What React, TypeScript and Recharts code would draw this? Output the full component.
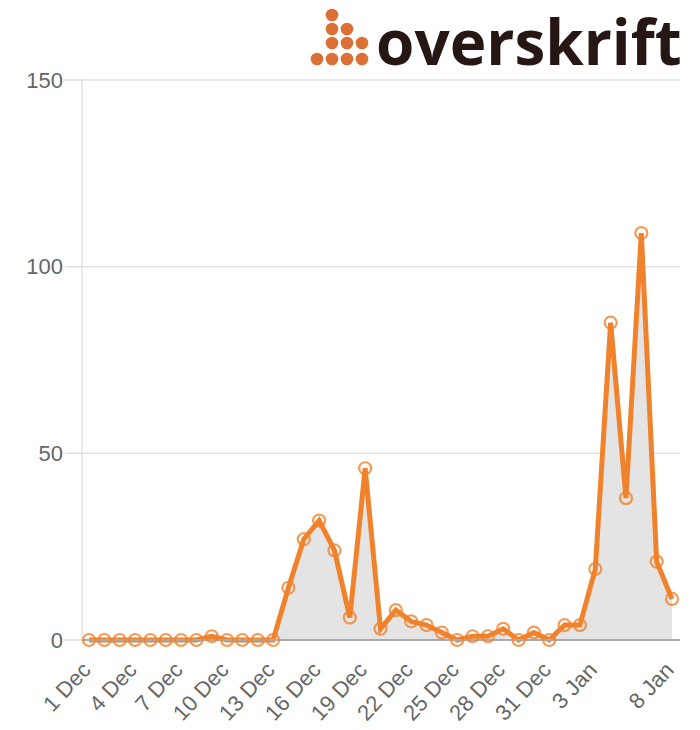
import { AreaChart, Area, XAxis, YAxis, CartesianGrid } from 'recharts';

const days = [
  '1 Dec', '2 Dec', '3 Dec', '4 Dec', '5 Dec', '6 Dec', '7 Dec', '8 Dec', '9 Dec', '10 Dec',
  '11 Dec', '12 Dec', '13 Dec', '14 Dec', '15 Dec', '16 Dec', '17 Dec', '18 Dec', '19 Dec', '20 Dec',
  '21 Dec', '22 Dec', '23 Dec', '24 Dec', '25 Dec', '26 Dec', '27 Dec', '28 Dec', '29 Dec', '30 Dec',
  '31 Dec', '1 Jan', '2 Jan', '3 Jan', '4 Jan', '5 Jan', '6 Jan', '7 Jan', '8 Jan',
];

const counts = [
  0, 0, 0, 0, 0, 0, 0, 0, 1, 0,
  0, 0, 0, 14, 27, 32, 24, 6, 46, 3,
  8, 5, 4, 2, 0, 1, 1, 3, 0, 2,
  0, 4, 4, 19, 85, 38, 109, 21, 11,
];

const shownLabels = [
  '1 Dec', '4 Dec', '7 Dec', '10 Dec', '13 Dec', '16 Dec', '19 Dec',
  '22 Dec', '25 Dec', '28 Dec', '31 Dec', '3 Jan', '8 Jan',
];

const yTicks = [0, 50, 100, 150];

const data = days.map((day, i) => ({ day, count: counts[i] }));

const ORANGE = '#f0822c';
const FONT = '"Liberation Sans", Arial, sans-serif';

function DayTick({ x, y, payload }: any) {
  if (!shownLabels.includes(payload.value)) return null;
  return (
    <text
      transform={`translate(${x + 3},${y + 23}) rotate(-47)`}
      textAnchor="end"
      fontSize={22}
      fill="#666"
      fontFamily={FONT}
    >
      {payload.value}
    </text>
  );
}

function Logo() {
  const dots = [
    [332, 15],
    [332, 29], [347, 29],
    [332, 43], [347, 43], [362, 43],
    [317, 59], [332, 59], [347, 59], [362, 59],
  ];
  return (
    <svg
      width={700}
      height={110}
      style={{ position: 'absolute', left: 0, top: 0, pointerEvents: 'none' }}
    >
      {dots.map(([cx, cy], i) => (
        <circle key={i} cx={cx} cy={cy} r={6.3} fill="#dc6f36" />
      ))}
      <text
        x={376}
        y={65}
        fontFamily='"Open Sans", sans-serif'
        fontWeight={700}
        fontSize={62}
        fill="#261714"
      >
        overskrift
      </text>
    </svg>
  );
}

export default function App() {
  return (
    <div style={{ position: 'absolute', left: 0, top: 0, width: 700, height: 730, background: '#fff' }}>
      <AreaChart
        width={700}
        height={730}
        data={data}
        margin={{ top: 80, right: 20, left: 0, bottom: 0 }}
      >
        <CartesianGrid vertical={false} stroke="#e2e2e2" strokeWidth={1.5} />
        <XAxis
          dataKey="day"
          interval={0}
          height={90}
          padding={{ left: 7, right: 8 }}
          tick={<DayTick />}
          tickLine={false}
          axisLine={{ stroke: '#aaa', strokeWidth: 2 }}
        />
        <YAxis
          width={82}
          domain={[0, 150]}
          ticks={yTicks}
          tickSize={17}
          tickMargin={2}
          tickLine={{ stroke: '#ddd', strokeWidth: 1.5 }}
          axisLine={{ stroke: '#e2e2e2', strokeWidth: 1.5 }}
          tick={{ fontSize: 22, fill: '#666', fontFamily: FONT }}
        />
        <Area
          type="linear"
          dataKey="count"
          stroke={ORANGE}
          strokeWidth={5}
          fill="#e4e4e4"
          fillOpacity={1}
          dot={{ r: 6, stroke: ORANGE, strokeWidth: 2.2, fill: 'none', strokeOpacity: 0.8 }}
          activeDot={false}
          isAnimationActive={false}
        />
      </AreaChart>
      <Logo />
    </div>
  );
}
